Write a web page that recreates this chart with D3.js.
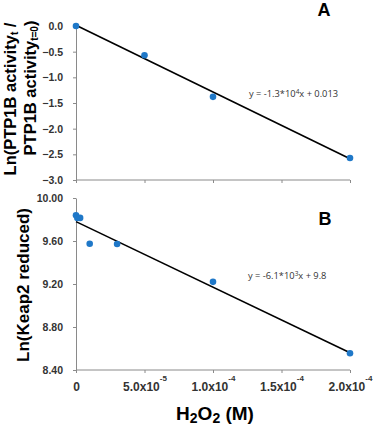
<!DOCTYPE html>
<html>
<head>
<meta charset="utf-8">
<script src="https://cdn.jsdelivr.net/npm/d3@7"></script>
<style>
  body { margin: 0; background: #fff; }
  svg { display: block; font-family: "Liberation Sans", Arial, sans-serif; }
</style>
</head>
<body>
<svg></svg>
<script>
// ---- données ----
const xTicks = [0, 5e-5, 1e-4, 1.5e-4, 2e-4];
const xTickMant = ["0", "5.0x10", "1.0x10", "1.5x10", "2.0x10"];
const xTickExp = ["", "-5", "-4", "-4", "-4"];

// panneau A : PTP1B
const aX = [0, 5e-5, 1e-4, 2e-4];
const aY = [0.0, -0.57, -1.38, -2.57];
const aTicks = [0, -0.5, -1.0, -1.5, -2.0, -2.5, -3.0];
const aSlope = -1.3e4, aInter = 0.013;

// panneau B : Keap2
const bX = [0, 1e-6, 3e-6, 1e-5, 3e-5, 1e-4, 2e-4];
const bY = [9.84, 9.815, 9.815, 9.575, 9.572, 9.22, 8.556];
const bTicks = [8.4, 8.8, 9.2, 9.6, 10.0];
const bSlope = -6.1e3, bInter = 9.78;

const W = 376, H = 426;
const svg = d3.select("svg").attr("width", W).attr("height", H);

const axisCol = "#8a8a8a";
const dotCol = "#1f78c8";

const x = d3.scaleLinear().domain([0, 2e-4]).range([76, 350]);
const yA = d3.scaleLinear().domain([-3, 0]).range([180, 26]);
const yB = d3.scaleLinear().domain([8.4, 10]).range([370, 198]);

function styleAxis(g) {
  g.select(".domain").attr("stroke", axisCol);
  g.selectAll(".tick line").attr("stroke", axisCol);
  g.selectAll(".tick text")
    .attr("fill", "#333")
    .attr("font-weight", "bold")
    .attr("font-size", 10.5);
}

function panel(yScale, ticks, fmt, xs, ys, slope, inter, showX) {
  // axe y
  svg.append("g")
    .attr("transform", `translate(${x(0)},0)`)
    .call(d3.axisLeft(yScale).tickValues(ticks).tickFormat(fmt)
      .tickSize(3).tickSizeOuter(0).tickPadding(10))
    .call(styleAxis);

  // axe x
  const gx = svg.append("g")
    .attr("transform", `translate(0,${yScale.range()[0]})`)
    .call(d3.axisBottom(x).tickValues(xTicks).tickSize(3).tickSizeOuter(0).tickPadding(9))
    .call(styleAxis);
  gx.select(".domain").attr("d", `M${x(0)},0H${x(2e-4)}`);

  if (showX) {
    gx.selectAll(".tick text").each(function(d, i) {
      const t = d3.select(this).text("").attr("font-size", 12);
      t.append("tspan").text(xTickMant[i]);
      if (xTickExp[i]) {
        t.append("tspan").attr("dy", -10).attr("font-size", 8).text(xTickExp[i]);
      }
    });
  } else {
    gx.selectAll(".tick text").remove();
  }

  // droite de tendance
  svg.append("line")
    .attr("x1", x(0)).attr("y1", yScale(inter))
    .attr("x2", x(2e-4)).attr("y2", yScale(inter + slope * 2e-4))
    .attr("stroke", "#000").attr("stroke-width", 1.6);

  // points
  svg.append("g").selectAll("circle")
    .data(xs.map((v, i) => [v, ys[i]]))
    .join("circle")
    .attr("cx", d => x(d[0]))
    .attr("cy", d => yScale(d[1]))
    .attr("r", 3.3)
    .attr("fill", dotCol);
}

panel(yA, aTicks, d3.format(".1f"), aX, aY, aSlope, aInter, false);
panel(yB, bTicks, d3.format(".2f"), bX, bY, bSlope, bInter, true);

// équations
function equation(px, py, parts) {
  const t = svg.append("text").attr("x", px).attr("y", py)
    .attr("font-family", "'Open Sans', sans-serif")
    .attr("font-size", 9.3).attr("fill", "#333");
  parts.forEach(p => {
    const s = t.append("tspan").text(p[0]);
    if (p[1]) s.attr("font-size", 6.5).attr("dy", -3.5);
    if (p[2]) s.attr("dy", 3.5);
  });
}
equation(249, 97, [["y = -1.3*10"], ["4", true], ["x + 0.013", false, true]]);
equation(248, 279, [["y = -6.1*10"], ["3", true], ["x + 9.8", false, true]]);

// lettres des panneaux
svg.append("text").attr("x", 324).attr("y", 16).attr("text-anchor", "middle")
  .attr("font-weight", "bold").attr("font-size", 18).text("A");
svg.append("text").attr("x", 325).attr("y", 225).attr("text-anchor", "middle")
  .attr("font-weight", "bold").attr("font-size", 18).text("B");

// titres des axes y
const tA = svg.append("text")
  .attr("transform", "translate(16,99) rotate(-90)")
  .attr("text-anchor", "middle").attr("font-weight", "bold").attr("font-size", 16.5);
tA.append("tspan").text("Ln(PTP1B activity");
tA.append("tspan").attr("font-size", 10).attr("dy", 2).text("t");
tA.append("tspan").attr("dy", -2).text(" /");

const tA2 = svg.append("text")
  .attr("transform", "translate(36,88) rotate(-90)")
  .attr("text-anchor", "middle").attr("font-weight", "bold").attr("font-size", 16.5);
tA2.append("tspan").text("PTP1B activity");
tA2.append("tspan").attr("font-size", 10).attr("dy", 2).text("t=0");
tA2.append("tspan").attr("dy", -2).text(")");

svg.append("text")
  .attr("transform", "translate(29,285) rotate(-90)")
  .attr("text-anchor", "middle").attr("font-weight", "bold").attr("font-size", 17)
  .text("Ln(Keap2 reduced)");

// titre axe x
const tx = svg.append("text").attr("x", 215).attr("y", 420)
  .attr("text-anchor", "middle").attr("font-weight", "bold").attr("font-size", 19);
tx.append("tspan").text("H");
tx.append("tspan").attr("font-size", 14).attr("dy", 3).text("2");
tx.append("tspan").attr("dy", -3).text("O");
tx.append("tspan").attr("font-size", 14).attr("dy", 3).text("2");
tx.append("tspan").attr("dy", -3).text(" (M)");
</script>
</body>
</html>
